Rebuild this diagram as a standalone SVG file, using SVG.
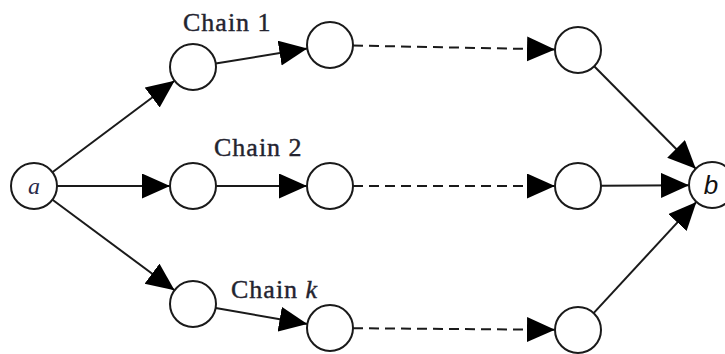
<svg xmlns="http://www.w3.org/2000/svg" width="725" height="354" viewBox="0 0 725 354">
  <style>
    .node circle { fill: #ffffff; stroke: #1a1a1a; stroke-width: 2; }
    .edge { stroke: #1a1a1a; stroke-width: 2; fill: none; marker-end: url(#arrow); }
    .dashed { stroke-dasharray: 10 6; }
    .label { font-family: "Liberation Serif", "Times New Roman", serif; font-size: 26px; letter-spacing: 1px; fill: #23232f; stroke: #23232f; stroke-width: 0.4; }
    .var { font-family: "Liberation Serif", "Times New Roman", serif; font-style: italic; font-size: 24px; fill: #2a2a4a; }
    .varb { font-family: "Liberation Sans", Arial, sans-serif; font-style: italic; font-size: 26px; fill: #111111; }
  </style>
  <defs>
    <marker id="arrow" markerUnits="userSpaceOnUse" markerWidth="30" markerHeight="26" refX="28" refY="12.5" orient="auto">
      <path d="M0,0 L28,12.5 L0,25 z" fill="#000000"/>
    </marker>
  </defs>
  <rect width="725" height="354" fill="#ffffff"/>

  <g id="connectors">
    <line class="edge" x1="52.4" y1="172.2" x2="174.6" y2="80.8"/>
    <line class="edge" x1="57" y1="186" x2="170" y2="186"/>
    <line class="edge" x1="52.5" y1="199.7" x2="174.5" y2="290.3"/>
    <line class="edge" x1="215.7" y1="63.4" x2="307.3" y2="48.6"/>
    <line class="edge" x1="216" y1="186" x2="307" y2="186"/>
    <line class="edge" x1="215.7" y1="308" x2="307.3" y2="324"/>
    <line class="edge dashed" x1="353" y1="45.5" x2="555" y2="49.5"/>
    <line class="edge dashed" x1="353" y1="186" x2="555" y2="186"/>
    <line class="edge dashed" x1="353" y1="328.2" x2="555" y2="329.8"/>
    <line class="edge" x1="594.2" y1="66.3" x2="695.8" y2="168.7"/>
    <line class="edge" x1="601" y1="185.8" x2="689" y2="185.2"/>
    <line class="edge" x1="593.6" y1="313.1" x2="696.4" y2="201.9"/>
  </g>

  <g id="node-a" class="node"><circle cx="34" cy="186" r="23"/><text class="var" x="34" y="194" text-anchor="middle">a</text></g>
  <g id="node-b" class="node"><circle cx="712" cy="185" r="23"/><text class="varb" x="711" y="194" text-anchor="middle">b</text></g>

  <g id="chain1-n1" class="node"><circle cx="193" cy="67" r="23"/></g>
  <g id="chain1-n2" class="node"><circle cx="330" cy="45" r="23"/></g>
  <g id="chain1-n3" class="node"><circle cx="578" cy="50" r="23"/></g>

  <g id="chain2-n1" class="node"><circle cx="193" cy="186" r="23"/></g>
  <g id="chain2-n2" class="node"><circle cx="330" cy="186" r="23"/></g>
  <g id="chain2-n3" class="node"><circle cx="578" cy="186" r="23"/></g>

  <g id="chaink-n1" class="node"><circle cx="193" cy="304" r="23"/></g>
  <g id="chaink-n2" class="node"><circle cx="330" cy="328" r="23"/></g>
  <g id="chaink-n3" class="node"><circle cx="578" cy="330" r="23"/></g>

  <g id="labels">
    <text class="label" x="183" y="31">Chain 1</text>
    <text class="label" x="214" y="156">Chain 2</text>
    <text class="label" x="231" y="298">Chain <tspan font-style="italic">k</tspan></text>
  </g>
</svg>
